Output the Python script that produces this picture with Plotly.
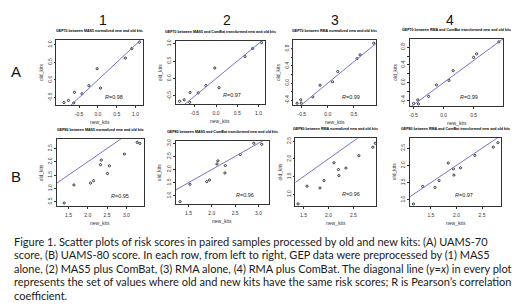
import plotly.graph_objects as go

# ---------------- data ----------------
col_labels = ["1", "2", "3", "4"]
row_labels = ["A", "B"]

titles = [
    "GEP70 between MAS5 normalized new and old kits",
    "GEP70 between MAS5 and ComBat transformed new and old kits",
    "GEP70 between RMA normalized new and old kits",
    "GEP70 between RMA and ComBat transformed new and old kits",
    "GEP80 between MAS5 normalized new and old kits",
    "GEP80 between MAS5 and ComBat transformed new and old kits",
    "GEP80 between RMA normalized new and old kits",
    "GEP80 between RMA and ComBat transformed new and old kits",
]
r_values = ["0.98", "0.97", "0.99", "0.99", "0.95", "0.96", "0.96", "0.97"]

a1_new = [-0.90, -0.78, -0.62, -0.64, -0.42, -0.24, -0.02, 0.07, 0.73, 0.90, 1.10]
a1_old = [-0.64, -0.58, -0.35, -0.65, -0.39, -0.16, 0.32, -0.23, 0.62, 0.89, 1.07]
a2_new = [-0.86, -0.75, -0.61, -0.62, -0.42, -0.24, -0.03, 0.07, 0.68, 0.86, 1.07]
a2_old = [-0.65, -0.61, -0.40, -0.68, -0.41, -0.20, 0.30, -0.26, 0.63, 0.86, 1.03]
a3_new = [-0.59, -0.52, -0.51, -0.29, -0.15, 0.09, 0.19, 0.56, 0.62, 0.88]
a3_old = [-0.47, -0.39, -0.47, -0.32, -0.05, 0.03, 0.27, 0.57, 0.66, 0.93]
a4_new = [-0.50, -0.43, -0.42, -0.25, -0.12, 0.09, 0.16, 0.50, 0.55, 0.92]
a4_old = [-0.47, -0.39, -0.48, -0.31, -0.05, 0.05, 0.27, 0.57, 0.65, 0.92]
b1_new = [1.39, 1.64, 2.07, 2.15, 2.33, 2.35, 2.51, 2.56, 2.95, 3.28, 3.35]
b1_old = [0.45, 1.13, 1.20, 1.29, 1.89, 2.06, 1.56, 1.85, 2.29, 2.73, 2.69]
b2_new = [1.32, 1.53, 1.89, 1.95, 2.11, 2.13, 2.28, 2.29, 2.61, 2.90, 3.07]
b2_old = [0.78, 1.44, 1.54, 1.60, 2.21, 2.33, 1.87, 2.15, 2.57, 3.00, 2.96]
b3_new = [1.39, 1.57, 1.83, 1.91, 2.11, 2.20, 2.21, 2.35, 2.61, 2.89, 2.94]
b3_old = [0.73, 1.23, 1.18, 1.39, 1.89, 1.70, 1.53, 1.74, 2.09, 2.33, 2.44]
b4_new = [1.16, 1.34, 1.58, 1.66, 1.84, 1.94, 1.95, 2.08, 2.36, 2.72, 2.81]
b4_old = [0.88, 1.39, 1.36, 1.56, 2.07, 1.90, 1.72, 1.93, 2.29, 2.53, 2.66]

ticks_a12 = [-0.5, 0.0, 0.5, 1.0]
ticktext_a12 = ["-0.5", "0.0", "0.5", "1.0"]
ticks_a34_x = [-0.5, 0.0, 0.5]
ticktext_a34_x = ["-0.5", "0.0", "0.5"]
ticks_a34_y = [-0.4, -0.2, 0.0, 0.2, 0.4, 0.6, 0.8]
ticktext_a34_y = ["-0.4", "", "0.0", "", "0.4", "", "0.8"]
ticks_b12_x = [1.5, 2.0, 2.5, 3.0]
ticktext_b12_x = ["1.5", "2.0", "2.5", "3.0"]
ticks_b1_y = [0.5, 1.0, 1.5, 2.0, 2.5]
ticktext_b1_y = ["0.5", "1.0", "1.5", "2.0", "2.5"]
ticks_b2_y = [1.0, 1.5, 2.0, 2.5, 3.0]
ticktext_b2_y = ["1.0", "1.5", "2.0", "2.5", "3.0"]
ticks_b34_x = [1.5, 2.0, 2.5]
ticktext_b34_x = ["1.5", "2.0", "2.5"]
ticks_b34_y = [1.0, 1.5, 2.0, 2.5]
ticktext_b34_y = ["1.0", "1.5", "2.0", "2.5"]

x_label = "new_kits"
y_label = "old_kits"

caption_lines = [
    "Figure 1. Scatter plots of risk scores in paired samples processed by old and new kits: (A) UAMS-70",
    "score, (B) UAMS-80 score. In each row, from left to right, GEP data were preprocessed by (1) MAS5",
    "alone, (2) MAS5 plus ComBat, (3) RMA alone, (4) RMA plus ComBat. The diagonal line (<i>y</i>=<i>x</i>) in every plot",
    "represents the set of values where old and new kits have the same risk scores; R is Pearson\u2019s correlation",
    "coefficient.",
]

# ---------------- layout / style ----------------
W, H = 520, 307

panels = [
    dict(x=a1_new, y=a1_old, xr=[-1.10, 1.19], yr=[-0.72, 1.14], xt=(ticks_a12, ticktext_a12), yt=(ticks_a12, ticktext_a12), box=(47.5, 30, 134, 96), rpos=(105.7, 87.3)),
    dict(x=a2_new, y=a2_old, xr=[-0.95, 1.14], yr=[-0.74, 1.08], xt=(ticks_a12, ticktext_a12), yt=(ticks_a12, ticktext_a12), box=(167, 31, 256, 95), rpos=(223, 86)),
    dict(x=a3_new, y=a3_old, xr=[-0.66, 0.93], yr=[-0.52, 1.01], xt=(ticks_a34_x, ticktext_a34_x), yt=(ticks_a34_y, ticktext_a34_y), box=(285, 30, 368, 96), rpos=(342.7, 87.3)),
    dict(x=a4_new, y=a4_old, xr=[-0.556, 0.99], yr=[-0.536, 0.989], xt=(ticks_a34_x, ticktext_a34_x), yt=(ticks_a34_y, ticktext_a34_y), box=(402, 29, 495, 97), rpos=(461, 87.3)),
    dict(x=b1_new, y=b1_old, xr=[1.20, 3.45], yr=[0.35, 2.85], xt=(ticks_b12_x, ticktext_b12_x), yt=(ticks_b1_y, ticktext_b1_y), box=(48, 130, 135, 197), rpos=(111.7, 187.3)),
    dict(x=b2_new, y=b2_old, xr=[1.225, 3.215], yr=[0.70, 3.08], xt=(ticks_b12_x, ticktext_b12_x), yt=(ticks_b2_y, ticktext_b2_y), box=(167, 132, 260, 195), rpos=(236.7, 186)),
    dict(x=b3_new, y=b3_old, xr=[1.338, 2.96], yr=[0.679, 2.585], xt=(ticks_b34_x, ticktext_b34_x), yt=(ticks_b34_y, ticktext_b34_y), box=(287, 129, 368, 197), rpos=(342.7, 185)),
    dict(x=b4_new, y=b4_old, xr=[1.097, 2.871], yr=[0.83, 2.791], xt=(ticks_b34_x, ticktext_b34_x), yt=(ticks_b34_y, ticktext_b34_y), box=(402, 129, 493, 197), rpos=(455.7, 186)),
]

AX = "#333333"
LINE_COL = "#7474cc"
TICKFONT = dict(family="Liberation Sans", size=5, color="#333333")

def px(x):
    return x / W

def py(y):
    return 1 - y / H

fig = go.Figure()
layout = {}
annotations = []

for i, p in enumerate(panels):
    n = i + 1
    sfx = "" if n == 1 else str(n)
    L, T, R, B = p["box"]
    fig.add_trace(go.Scatter(
        x=p["x"], y=p["y"], mode="markers", xaxis="x" + sfx, yaxis="y" + sfx,
        marker=dict(symbol="circle-open", size=2.2, color="#111111", line=dict(width=0.8)),
        showlegend=False, hoverinfo="skip"))
    lo = min(p["xr"][0], p["yr"][0])
    hi = max(p["xr"][1], p["yr"][1])
    fig.add_trace(go.Scatter(
        x=[lo, hi], y=[lo, hi], mode="lines", xaxis="x" + sfx, yaxis="y" + sfx,
        line=dict(color=LINE_COL, width=1), showlegend=False, hoverinfo="skip"))
    common = dict(showline=True, linecolor=AX, linewidth=0.8, mirror=True,
                  ticks="outside", ticklen=2, tickwidth=0.6, tickcolor=AX,
                  showgrid=False, zeroline=False, tickfont=TICKFONT)
    layout["xaxis" + sfx] = dict(domain=[px(L), px(R)], range=p["xr"], anchor="y" + sfx,
                                 tickvals=p["xt"][0], ticktext=p["xt"][1],
                                 ticklabelstandoff=2, **common)
    layout["yaxis" + sfx] = dict(domain=[py(B), py(T)], range=p["yr"], anchor="x" + sfx,
                                 tickvals=p["yt"][0], ticktext=p["yt"][1], tickangle=-90,
                                 ticklabelstandoff=0, **common)
    cx = (L + R) / 2
    cy = (T + B) / 2
    annotations.append(dict(text="<b>" + titles[i] + "</b>", x=px(cx), y=py(T - 9),
                            font=dict(family="Liberation Sans", size=3.6, color="#000000")))
    annotations.append(dict(text=x_label, x=px(cx), y=py(B + 17),
                            font=dict(family="Liberation Sans", size=5, color="#333333")))
    annotations.append(dict(text=y_label, x=px(L - 16), y=py(cy), textangle=-90,
                            font=dict(family="Liberation Sans", size=5, color="#333333")))
    annotations.append(dict(text="<i>R</i>=" + r_values[i], x=px(p["rpos"][0]), y=py(p["rpos"][1]),
                            font=dict(family="Liberation Sans", size=5.5, color="#222222")))

col_pos = [94, 218, 327, 442]
for lab, cxp in zip(col_labels, col_pos):
    annotations.append(dict(text=lab, x=px(cxp), y=py(10), height=14,
                            font=dict(family="Liberation Sans", size=14, color="#111111")))
row_pos = [62, 168]
for lab, cyp in zip(row_labels, row_pos):
    annotations.append(dict(text=lab, x=px(7), y=py(cyp),
                            font=dict(family="Liberation Sans", size=15, color="#111111")))

cap_y = [233, 246.5, 260, 273.5, 287]
for line, yy in zip(caption_lines, cap_y):
    annotations.append(dict(text=line, x=px(3), y=py(yy), xanchor="left",
                            font=dict(family="Lato", size=11, color="#1a1a1a")))

for a in annotations:
    a.setdefault("xanchor", "center")
    a.update(xref="paper", yref="paper", yanchor="middle", showarrow=False)

fig.update_layout(
    width=W, height=H, margin=dict(l=0, r=0, t=0, b=0),
    paper_bgcolor="white", plot_bgcolor="white",
    annotations=annotations, showlegend=False, **layout)

fig.write_html("out.html")
